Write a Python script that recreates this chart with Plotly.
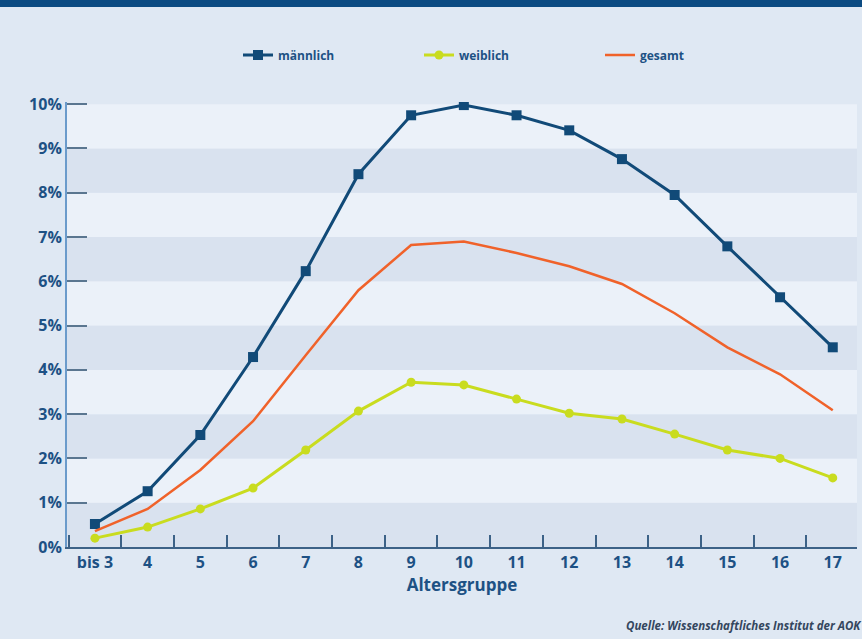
import plotly.graph_objects as go

categories = ["bis 3", "4", "5", "6", "7", "8", "9", "10", "11", "12", "13", "14", "15", "16", "17"]
maennlich = [0.52, 1.26, 2.53, 4.29, 6.23, 8.42, 9.75, 9.98, 9.75, 9.41, 8.76, 7.95, 6.79, 5.64, 4.51]
weiblich = [0.20, 0.45, 0.86, 1.33, 2.19, 3.07, 3.72, 3.66, 3.34, 3.02, 2.89, 2.55, 2.19, 2.00, 1.56]
gesamt = [0.36, 0.86, 1.74, 2.84, 4.33, 5.80, 6.82, 6.90, 6.64, 6.34, 5.94, 5.28, 4.51, 3.90, 3.09]
y_ticks = list(range(0, 11))
y_labels = [f"{v}%" for v in y_ticks]

W, H = 862, 639
ML, MR, MT, MB = 67, 5, 102, 92

BLUE = "#114a78"
YELLOW = "#c9dc1f"
ORANGE = "#f0622a"
TEXT = "#1d5184"

fig = go.Figure()
fig.add_trace(go.Scatter(x=categories, y=maennlich, name="männlich", mode="lines+markers",
                         line=dict(color=BLUE, width=3),
                         marker=dict(symbol="square", size=10, color=BLUE)))
fig.add_trace(go.Scatter(x=categories, y=weiblich, name="weiblich", mode="lines+markers",
                         line=dict(color=YELLOW, width=3),
                         marker=dict(symbol="circle", size=9, color=YELLOW)))
fig.add_trace(go.Scatter(x=categories, y=gesamt, name="gesamt", mode="lines",
                         line=dict(color=ORANGE, width=2.5)))

shapes = []
for lo in y_ticks[:-1]:
    shapes.append(dict(type="rect", xref="paper", yref="y", x0=0, x1=1, y0=lo, y1=lo + 1,
                       fillcolor="#d9e2ef" if (lo % 2 == 0) else "#ebf1f9",
                       line=dict(width=0), layer="below"))
pw = W - ML - MR
ph = H - MT - MB
shapes.append(dict(type="rect", xref="paper", yref="paper",
                   x0=-ML / pw, x1=(W - ML) / pw, y0=(H - MB - 7) / ph, y1=(H - MB) / ph + 0.01,
                   fillcolor="#0b4b82", line=dict(width=0)))

fig.update_layout(
    width=W, height=H,
    margin=dict(l=ML, r=MR, t=MT, b=MB),
    paper_bgcolor="#dfe8f3",
    plot_bgcolor="#dfe8f3",
    shapes=shapes,
    showlegend=True,
    legend=dict(orientation="h", x=(238 - ML) / pw, xanchor="left", y=(H - MB - 55) / ph,
                yanchor="middle", font=dict(family="Open Sans", size=12, color=TEXT, weight="bold"),
                bgcolor="rgba(0,0,0,0)", entrywidth=136, itemwidth=30),
    xaxis=dict(type="category", range=[-0.53, 14.46], tickson="boundaries", ticks="inside",
               ticklen=12, tickwidth=1.5, tickcolor="#3d6287", showline=True, linecolor="#3d6287",
               linewidth=2, showgrid=False, zeroline=False,
               tickfont=dict(family="Open Sans", size=16, color=TEXT, weight="bold"),
               title=dict(text="Altersgruppe", standoff=6,
                          font=dict(family="Open Sans", size=17, color=TEXT, weight="bold"))),
    yaxis=dict(range=[0, 10.05], tickvals=y_ticks, ticktext=y_labels, ticks="inside",
               ticklen=20, tickwidth=1.5, tickcolor="#5a7690", showline=True,
               linecolor="#6b9bcb", linewidth=2, showgrid=False, zeroline=False,
               tickfont=dict(family="Open Sans", size=16, color=TEXT, weight="bold")),
    annotations=[dict(text="Quelle: Wissenschaftliches Institut der AOK", xref="paper", yref="paper",
                      x=(W - ML + 2) / pw, xanchor="right", y=-(625 - (H - MB)) / ph, yanchor="middle",
                      showarrow=False,
                      font=dict(family="Open Sans", size=11.5, color="#34465e", weight="bold", style="italic"))],
)

fig.write_html("out.html")
